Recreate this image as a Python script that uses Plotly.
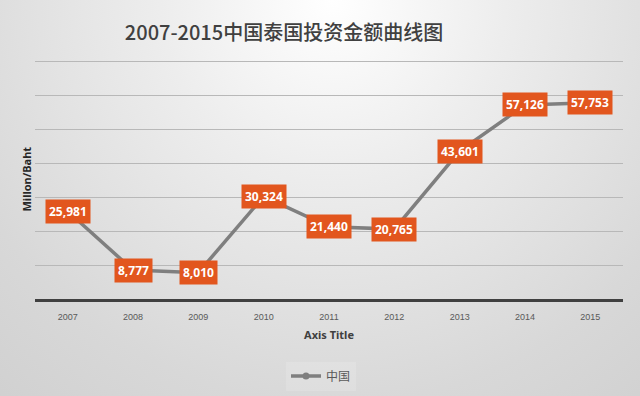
import base64
import plotly.graph_objects as go

years = ["2007", "2008", "2009", "2010", "2011", "2012", "2013", "2014", "2015"]
values = [25981, 8777, 8010, 30324, 21440, 20765, 43601, 57126, 57753]
series_name = "中国"
title_text = "2007-2015中国泰国投资金额曲线图"
y_title = "Millon/Baht"
x_title = "Axis Title"

W, H = 640, 396
ML, MR, MT, MB = 35, 17, 58, 96
pw, ph = W - ML - MR, H - MT - MB
y_top = 70000 * ph / 239  # 70,000 gridline sits 239 px above the baseline

svg = f"""<svg xmlns='http://www.w3.org/2000/svg' width='{W}' height='{H}' viewBox='0 0 {W} {H}' preserveAspectRatio='none'>
<defs><radialGradient id='g' cx='{0.52*W}' cy='0' r='{0.9*W}' gradientUnits='userSpaceOnUse'>
<stop offset='0' stop-color='#ffffff'/><stop offset='0.3' stop-color='#ededed'/><stop offset='0.7' stop-color='#d8d8d8'/><stop offset='1' stop-color='#cdcdcd'/></radialGradient></defs>
<rect width='{W}' height='{H}' fill='url(#g)'/></svg>"""
src = "data:image/svg+xml;base64," + base64.b64encode(svg.encode()).decode()

fig = go.Figure()
fig.add_trace(go.Scatter(
    x=years, y=values, mode="lines+markers", name=series_name, showlegend=False,
    line=dict(color="#7f7f7f", width=3.5),
    marker=dict(color="#7f7f7f", size=14),
))
# legend entry styled like the reference key
fig.add_trace(go.Scatter(
    x=[None], y=[None], mode="lines+markers", name=series_name, showlegend=True,
    line=dict(color="#7f7f7f", width=3.5),
    marker=dict(color="#7f7f7f", size=7),
))

for i, yv in enumerate(values):
    fig.add_annotation(
        x=i, y=yv, text=f"<b>{yv:,}</b>", showarrow=False,
        font=dict(family="Noto Sans", size=12, color="white"),
        bgcolor="#e2561e", borderpad=3, xanchor="center", yanchor="middle",
    )

fig.add_annotation(
    xref="paper", yref="paper", x=0, y=(300 - 179) / ph, xanchor="right", yanchor="middle",
    xshift=0, text=f"<b>{y_title}</b>", textangle=-90, showarrow=False,
    font=dict(family="Noto Sans", size=11, color="#262626"),
)

fig.add_layout_image(dict(
    source=src, xref="paper", yref="paper",
    x=-ML / pw, y=1 + MT / ph, sizex=W / pw, sizey=H / ph,
    xanchor="left", yanchor="top", sizing="stretch", layer="below",
))

fig.update_layout(
    width=W, height=H,
    margin=dict(l=ML, r=MR, t=MT, b=MB, autoexpand=False),
    paper_bgcolor="#dcdcdc", plot_bgcolor="rgba(0,0,0,0)",
    title=dict(text=title_text, x=284 / W, xanchor="center", y=1 - 33 / H, yanchor="middle",
               yref="container", xref="container",
               font=dict(family="Noto Sans CJK SC", size=20, color="#404040", weight=500)),
    showlegend=True,
    legend=dict(orientation="h", x=(321 - ML) / pw, xanchor="center", y=-(376 - 300) / ph,
                yanchor="middle",
                font=dict(family="Noto Sans CJK SC", size=12, color="#595959"),
                bgcolor="rgba(255,255,255,0.15)", itemwidth=30),
    xaxis=dict(type="category", range=[-0.5, len(years) - 0.5], showgrid=False, ticks="",
               ticklabelstandoff=10, automargin=False,
               tickfont=dict(family="Liberation Sans", size=9, color="#595959"),
               title=dict(text=f"<b>{x_title}</b>", standoff=10,
                          font=dict(family="Noto Sans", size=11, color="#404040")),
               showline=False, fixedrange=True),
    yaxis=dict(range=[0, y_top], tick0=0, dtick=10000, showticklabels=False, showgrid=True,
               automargin=False,
               gridcolor="#b8b8b8", gridwidth=1, zeroline=True, zerolinecolor="#404040",
               zerolinewidth=2.5, fixedrange=True),
)

fig.write_html("out.html", config={"displayModeBar": False},
               post_script="document.body.style.margin='0';")
